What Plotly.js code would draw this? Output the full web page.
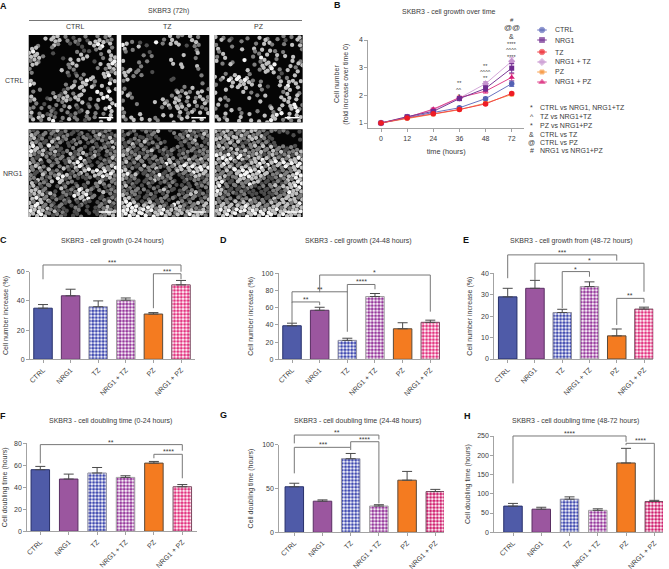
<!DOCTYPE html>
<html><head><meta charset="utf-8">
<script src="https://cdn.plot.ly/plotly-3.0.1.min.js"></script>
<style>html,body{margin:0;padding:0;background:#fff}#p{width:669px;height:569px}</style>
</head><body><div id="p"></div>
<script>
const categories=['CTRL','NRG1','TZ','NRG1 + TZ','PZ','NRG1 + PZ'];
const hours=['0','12','24','36','48','72'];
// Panel B
const growthCTRL=[1,1.2,1.38,1.55,1.88,2.42];
const growthNRG1=[1,1.23,1.42,1.88,2.25,2.98];
const growthTZ=[1,1.18,1.33,1.49,1.69,2.07];
const growthNRG1TZ=[1,1.21,1.48,1.9,2.42,3.23];
const growthPZ=[1,1.16,1.31,1.48,1.72,2.03];
const growthNRG1PZ=[1,1.2,1.5,1.92,2.15,2.65];
const errCTRL=[0,.03,.03,.04,.05,.1];
const errNRG1=[0,.04,.04,.06,.1,.17];
const errTZ=[0,.02,.02,.03,.04,.04];
const errNRG1TZ=[0,.03,.04,.06,.08,.13];
const errPZ=[0,.02,.02,.03,.04,.04];
const errNRG1PZ=[0,.03,.04,.05,.07,.13];
// Bars: means and upper ends of the error bars
const valC=[35,43.5,36,40.5,31,51], topC=[37.5,48,40,42,32,54];
const valD=[39,57,22,73,35.5,43], topD=[42,60.5,24.5,76.5,42.5,45.5];
const valE=[29,33,21.7,33.8,10.8,23.3], topE=[33,36.7,23.2,36,14,24.2];
const valF=[56,47.5,53,49,62,40.5], topF=[59,52,58,50.5,63.5,42.5];
const valG=[52,35.5,84,30,59.5,46.5], topG=[56,37,90,31.5,69.5,49];
const valH=[68,60,86,57,180,80], topH=[75,65,92,61,218,83];
// Brackets: [from bar, from y, to bar, to y, top y, label]
const bracketsC=[[0,54.8,5,60,64.6,'***'],[4,35,5,54.8,58.6,'***']];
const bracketsD=[[1,78,5,55.4,98,'*'],[0,66,2,32,78.5,'**'],[0,42,1,63,66.7,'**'],[2,78,3,81.4,87,'****']];
const bracketsE=[[0,37.7,4,45.9,48.6,'***'],[1,36.9,5,31.4,44.7,'*'],[2,23.7,3,38.4,40.8,'*'],[4,15.9,5,26.3,28.3,'**']];
const bracketsF=[[0,61.8,5,73.3,78.8,'**'],[4,66.4,5,48.2,70,'****']];
const bracketsG=[[0,101.5,3,106,111,'**'],[0,67.3,2,94,97,'***'],[2,97,3,33,103.4,'****']];
const bracketsH=[[0,127,4,235,250,'****'],[4,226,5,84,231,'****']];
// Micrographs, read by eye: 0/. empty, 1-4 nucleus brightness
const micCC=["....3.33.2.1..2..2.23.",".....333.2.22.1.33322.","..2...32..1.11.3344.3.","33...2.......1..23..2.","343...1.....23.1..2.3.","3332....1....33...2.33","232.......3.3...1...34","33.......233.....3.343","2.......3.22.....2.233","2........2.1.2....3323","..........1.22..3..34.","3..........2.3432...23","43.......2.3.33.2.3.4.","..2.....123.33.3...2.3",".2....2.13.2.3...43.4.","3...1.3233.33.....44..","23...2.2232.33.2.3..3.",".2.1..2.2..2..1.2...34","22.2.21.2.3.12.2.2.34.","3.2.121..2.21.3.2.2.3.","2.33.22.2.12..2.2...3.",".3.2.34.1.3.2.12..3.4."];
const micCT=["............3.22.3.2..","..2.1...4.2.33...33...","43..3.1...2.3.3.1.22..","3.2...............2...",".2.....1...........3..",".....2.2.......3..2...","3...2.2.....3.........","....2.......3.3...3...","2.3.2..........3...2..","33.2...1..............",".3.2.2.......1......2.","23..........1.........","....................2.","2............2.2.3...2","3.2...........3232.33.",".32.........232.3.23.2","2.......3.32.33.2.3.32","...2......33.32.3.2.3.","3.........2.2.332.2.22","2...3.........3.23.3.3","3.3.....2.3.3.2.3.....",".2.3.3.3.2...3.3..3.3."];
const micCP=["3.2.1...2..3.2...2.2.3",".3.2..2.....33.2.1..32","2...2.....2.3.2..2.3.3","3.....3..3.3.3.......2",".23.......22.3.2.2....","2.3......2.4...3.3.3..","3...2..4...233.2...3.2",".2.3.....2.3334...3.33","........3..2334.2.3.2.","..2.....2...3.3.1...3.","3.3.334.3.......2.2.3.",".2.4343432.2....3.33.3","2...3.33.3.3.1..3.4.3.","..3..3.3...2.....33.3.","3......3.2.......23..2","..2.....3.2.3...3.3.3.",".3.2.......3.....33.3.","3.2..........2..3.34.2","2...3.2.......3.3..342","..3...2.3.2...2.4.3.4.","3.2...3.....3.34..3.33",".3.3..3..3.3.343.2.2.3"];
const micNC=["2120212312011201211220","3212021122101210232112","2312112312021021122131","3221231201122012101232","3432142210120210212213","4323123112012301210212","3213222120312021310122","2130212212214312012132","3221021201334321012122","2332120232134221023234","3212231210122334343423","2103122343122120334342","2232120431201012012132","3122230312210120232022","2321220132012310120121","3332101021224332023122","2323232012143341201021","3432312121023342012122","3243221021201211012132","3432321210121010122311","4343223121012010112323","3334321221011201012233"];
const micNT=["2012012123001201232122","1201101210000121312132","2012212101000012123021","1231231212100012122012","2122121012010121012121","2321122301212011221222","3212312120121012102122","2213221222132122322323","2312120121243321323222","2121232232122234343434","4320121221012133234343","3423012124122012123332","3212101232212101212212","2121012101212101102122","2321210121012101210122","2122121012321012123101","3212101210120121232121","3321012112212012120123","3443212321210432122323","3444334323212332122132","4444443433433232332232","3443444243433233243332"];
const micNP=["3233232323322122121001","2232323232231100000100","3323232223312110000001","2223231122222110000000","2332321212323231221210","2212232322232232312223","4334234232321232123132","3444343223343232323343","3243222123343434343434","2323323332342323242343","3223243444343322122233","2232234443333122323344","3321123323322112123243","3421232243311212123344","3412121222112123233344","4321212111011122124333","3312011201101112223332","2222122232121232333323","3232332332232232333234","2333233433322333232333","3434344434343434333334","2334342243434443343333"];
const rowShift=[.2,.7,.35,.85,.1,.6,.45,.95,.25,.75,.05,.55,.3,.8,.15,.65,.4,.9,.2,.7,.5,.1];
const colShift=[.5,.2,.75,.35,.9,.1,.6,.3,.85,.45,.15,.7,.25,.95,.4,.05,.65,.3,.8,.5,.15,.6];
const notes=[['*','CTRL vs NRG1, NRG1+TZ'],['^','TZ vs NRG1+TZ'],['*','PZ vs NRG1+PZ'],['&','CTRL vs TZ'],['@','CTRL vs PZ'],['#','NRG1 vs NRG1+PZ']];

const W=669,H=569,FONT='"Liberation Sans",Arial,sans-serif',INK='#3a3a3a',AXIS='#a3a3a3';
const px=x=>x/W, py=y=>1-y/H;
const layout={width:W,height:H,margin:{l:0,r:0,t:0,b:0},paper_bgcolor:'#fff',plot_bgcolor:'rgba(0,0,0,0)',showlegend:false,font:{family:FONT,size:7,color:INK},annotations:[],shapes:[]};
const data=[];
function txt(x,y,t,o={}){layout.annotations.push(Object.assign({xref:'paper',yref:'paper',x:px(x),y:py(y),text:t,showarrow:false,xanchor:'center',yanchor:'middle',font:{size:7,color:INK,family:FONT}},o));}
const colors=['#4f5ba8','#9b569f','#3f49b0','#96389c','#f47b20','#e2327f'];
const outline=['#27306b','#5a2f63','#8f8f9f','#a0a0a0','#5a4a3a','#7a4a60'];
const tickFont={size:7,color:INK,family:FONT};
function bars(n,cfg){
  const xa='xaxis'+n,ya='yaxis'+n,xr='x'+n,yr='y'+n,yb='y'+(n+20);
  const sp=(cfg.c5-cfg.c0)/5;
  layout[xa]={domain:[px(cfg.left),px(cfg.right)],range:[(cfg.left-cfg.c0)/sp,(cfg.right-cfg.c0)/sp],anchor:yr,tickmode:'array',tickvals:[0,1,2,3,4,5],ticktext:categories,tickangle:-45,ticks:'outside',ticklen:3,tickcolor:AXIS,linecolor:AXIS,linewidth:1,showline:true,showgrid:false,zeroline:false,tickfont:tickFont};
  layout[ya]={domain:[py(cfg.bottom),py(cfg.top)],range:[0,cfg.max],anchor:xr,tickmode:'array',tickvals:cfg.ticks,ticks:'outside',ticklen:3,tickcolor:AXIS,linecolor:AXIS,linewidth:1,showline:true,showgrid:false,zeroline:false,tickfont:tickFont,title:{text:cfg.ylab,font:{size:7,color:INK,family:FONT},standoff:cfg.standoff}};
  // invisible taller axis with the same scale, so brackets may rise above the drawn axis
  const k=1.45, hgt=cfg.bottom-cfg.top;
  layout['yaxis'+(n+20)]={domain:[py(cfg.bottom),py(cfg.bottom-hgt*k)],range:[0,cfg.max*k],anchor:xr,visible:false};
  const fg=colors.slice(); if(cfg.deepPink) fg[5]='#cf1f6e';
  data.push({type:'bar',x:[0,1,2,3,4,5],y:cfg.val,xaxis:xr,yaxis:yr,width:18.5/sp,
    marker:{color:fg,line:{color:outline,width:1},pattern:{shape:['','','.','.','','.'],size:3.4,solidity:0.6,fillmode:'replace'}},
    error_y:{type:'data',symmetric:false,array:cfg.val.map((v,i)=>cfg.topv[i]-v),arrayminus:[0,0,0,0,0,0],color:'#4a4a4a',thickness:1,width:5}});
  cfg.brackets.forEach(b=>{
    data.push({type:'scatter',mode:'lines',x:[b[0],b[0],b[2],b[2]],y:[b[1],b[4],b[4],b[3]],xaxis:xr,yaxis:yb,cliponaxis:false,line:{color:'#777',width:1},hoverinfo:'skip'});
    layout.annotations.push({xref:xr,yref:yb,x:(b[0]+b[2])/2,y:b[4],text:b[5],showarrow:false,xanchor:'center',yanchor:'bottom',yshift:-3,font:{size:7,color:INK,family:FONT}});
  });
  txt(cfg.titleX,cfg.titleY,cfg.title);
}
bars(2,{left:30,right:195,c0:43,c5:181,top:271.7,bottom:359.3,max:60,ticks:[0,20,40,60],val:valC,topv:topC,brackets:bracketsC,ylab:'Cell number increase (%)',standoff:7,title:'SKBR3 - cell growth (0-24 hours)',titleX:112.5,titleY:241});
bars(3,{left:278.7,right:440,c0:292,c5:430.3,top:273.3,bottom:359.3,max:100,ticks:[0,20,40,60,80,100],val:valD,topv:topD,brackets:bracketsD,ylab:'Cell number increase (%)',standoff:7,title:'SKBR3 - cell growth (24-48 hours)',titleX:358.5,titleY:241});
bars(4,{left:494.3,right:653.3,c0:507.7,c5:644,top:273.3,bottom:359,max:40,ticks:[0,10,20,30,40],val:valE,topv:topE,brackets:bracketsE,ylab:'Cell number increase (%)',standoff:7,title:'SKBR3 - cell growth from (48-72 hours)',titleX:571.5,titleY:240.5});
bars(5,{left:27.3,right:197.3,c0:40.3,c5:182.3,top:443.3,bottom:531.3,max:80,ticks:[0,20,40,60,80],val:valF,topv:topF,brackets:bracketsF,ylab:'Cell doubling time (hours)',standoff:5,title:'SKBR3 - cell doubling time (0-24 hours)',titleX:110,titleY:421});
bars(6,{left:279.3,right:444,c0:294.3,c5:435.3,top:444.7,bottom:532.3,max:100,ticks:[0,50,100],val:valG,topv:topG,brackets:bracketsG,ylab:'Cell doubling time (hours)',standoff:7,title:'SKBR3 - cell doubling time (24-48 hours)',titleX:357,titleY:421,deepPink:true});
bars(7,{left:494.3,right:663,c0:513,c5:654.3,top:436,bottom:532.3,max:250,ticks:[0,50,100,150,200,250],val:valH,topv:topH,brackets:bracketsH,ylab:'Cell doubling time (hours)',standoff:5,title:'SKBR3 - cell doubling time (48-72 hours)',titleX:575,titleY:421,deepPink:true});

// Panel B
const series=[
 ['PZ',growthPZ,errPZ,'#f9a04e','#f58a2a','square',4],
 ['NRG1 + TZ',growthNRG1TZ,errNRG1TZ,'#d3a7d8','#c692cf','diamond',5.5],
 ['NRG1 + PZ',growthNRG1PZ,errNRG1PZ,'#e0408a','#d81b74','triangle-up',5.5],
 ['CTRL',growthCTRL,errCTRL,'#6a74c0','#5461b4','circle',5.5],
 ['NRG1',growthNRG1,errNRG1,'#7b3a96','#6f2b90','square',5],
 ['TZ',growthTZ,errTZ,'#f0484f','#ee1c25','circle',5.5]];
layout.xaxis={domain:[px(368.3),px(524)],range:[(368.3-381)/26.14,(524-381)/26.14],anchor:'y',tickmode:'array',tickvals:[0,1,2,3,4,5],ticktext:hours,ticks:'outside',ticklen:3,tickcolor:AXIS,linecolor:AXIS,showline:true,showgrid:false,zeroline:false,tickfont:tickFont,title:{text:'time (hours)',font:{size:7.3,color:INK,family:FONT},standoff:8}};
layout.yaxis={domain:[py(128.3),py(40)],range:[1-5.3/27.67,4],anchor:'x',tickmode:'array',tickvals:[1,2,3,4],ticks:'outside',ticklen:3,tickcolor:AXIS,linecolor:AXIS,showline:true,showgrid:false,zeroline:false,tickfont:tickFont,title:{text:'Cell number<br>(fold increase over time 0)',font:{size:7,color:INK,family:FONT},standoff:9}};
series.forEach(s=>data.push({type:'scatter',mode:'lines+markers',name:s[0],x:[0,1,2,3,4,5],y:s[1],xaxis:'x',yaxis:'y',cliponaxis:false,line:{color:s[3],width:1},marker:{color:s[4],symbol:s[5],size:s[6]},error_y:{type:'data',array:s[2],color:s[3],thickness:1,width:2.5}}));
txt(448.3,11.5,'SKBR3 - cell growth over time');
[[3,83,'**',5.5],[3,89.5,'^^',5.5],[3,96,'*',5.5],[4,65.5,'**',5.5],[4,72,'^^^^',5.5],[4,78.5,'**',5.5],[5,19.5,'#',6],[5,28,'@@',8],[5,36.2,'&',7],[5,43.5,'****',5.5],[5,50,'^^^^',5.5],[5,56.5,'****',5.5]].forEach(a=>{
  txt(381+a[0]*26.14,a[1],a[2],{font:{size:a[3],color:INK,family:FONT}});
});
// Legend keys
const keyRows=[['CTRL',30],['NRG1',40],['TZ',52],['NRG1 + TZ',62],['PZ',72],['NRG1 + PZ',82]];
layout.xaxis14={domain:[px(536),px(548)],range:[0,2],anchor:'y14',visible:false};
layout.yaxis14={domain:[py(90),py(24)],range:[90,24],anchor:'x14',visible:false};
keyRows.forEach(r=>{
  const s=series.find(q=>q[0]===r[0]);
  data.push({type:'scatter',mode:'lines+markers',x:[0.2,1,1.8],y:[r[1],r[1],r[1]],xaxis:'x14',yaxis:'y14',line:{color:s[3],width:1},marker:{color:s[4],symbol:s[5],size:[0,s[6],0]},hoverinfo:'skip',cliponaxis:false});
  txt(553,r[1],r[0],{xanchor:'left'});
});
const noteY=[107.3,116.7,125.7,134.3,142,150];
notes.forEach((n,i)=>{txt(531.7,noteY[i],n[0]);txt(537.7,noteY[i],n[1],{xanchor:'left'});});

// Panel A
const gray={1:'#4d4d4d',2:'#7d7d7d',3:'#c0c0c0',4:'#f4f4f4'};
const mics=[[micCC,28.7,35],[micCT,121.3,35],[micCP,214.7,35],[micNC,28.7,129.3],[micNT,121.3,129.3],[micNP,214.7,129.3]];
mics.forEach((m,i)=>{
  const n=8+i,xs=[],ys=[],cs=[];
  m[0].forEach((row,r)=>{[...row].forEach((c,k)=>{if(gray[c]){xs.push(k+rowShift[r]);ys.push(r+colShift[k]);cs.push(gray[c]);}});});
  layout['xaxis'+n]={domain:[px(m[1]),px(m[1]+88)],range:[0,22],anchor:'y'+n,visible:false,fixedrange:true};
  layout['yaxis'+n]={domain:[py(m[2]+87.6),py(m[2])],range:[22,0],anchor:'x'+n,visible:false,fixedrange:true};
  layout.shapes.push({type:'rect',xref:'paper',yref:'paper',x0:px(m[1]),x1:px(m[1]+88),y0:py(m[2]),y1:py(m[2]+87.6),fillcolor:'#050505',line:{width:0},layer:'below'});
  data.push({type:'scatter',mode:'markers',x:xs,y:ys,xaxis:'x'+n,yaxis:'y'+n,marker:{size:4.3,color:cs,line:{width:0}},hoverinfo:'skip'});
  layout.shapes.push({type:'line',xref:'paper',yref:'paper',x0:px(m[1]+70),x1:px(m[1]+84.6),y0:py(m[2]+82.7),y1:py(m[2]+82.7),line:{color:'#fff',width:1.5}});
});
layout.shapes.push({type:'line',xref:'paper',yref:'paper',x0:px(29),x1:px(302),y0:py(20.5),y1:py(20.5),line:{color:'#777',width:1}});
txt(168,11,'SKBR3 (72h)');txt(75,27,'CTRL');txt(167,27,'TZ');txt(259,27,'PZ');txt(14,81,'CTRL');txt(13,173,'NRG1');
[['A',3,6],['B',337,5],['C',3,240],['D',223,240],['E',466,240],['F',3,416],['G',223,415],['H',467,416]].forEach(l=>txt(l[1],l[2],'<b>'+l[0]+'</b>',{font:{size:9,color:'#111',family:FONT}}));

Plotly.newPlot('p',data,layout,{displayModeBar:false,staticPlot:true});
</script></body></html>
